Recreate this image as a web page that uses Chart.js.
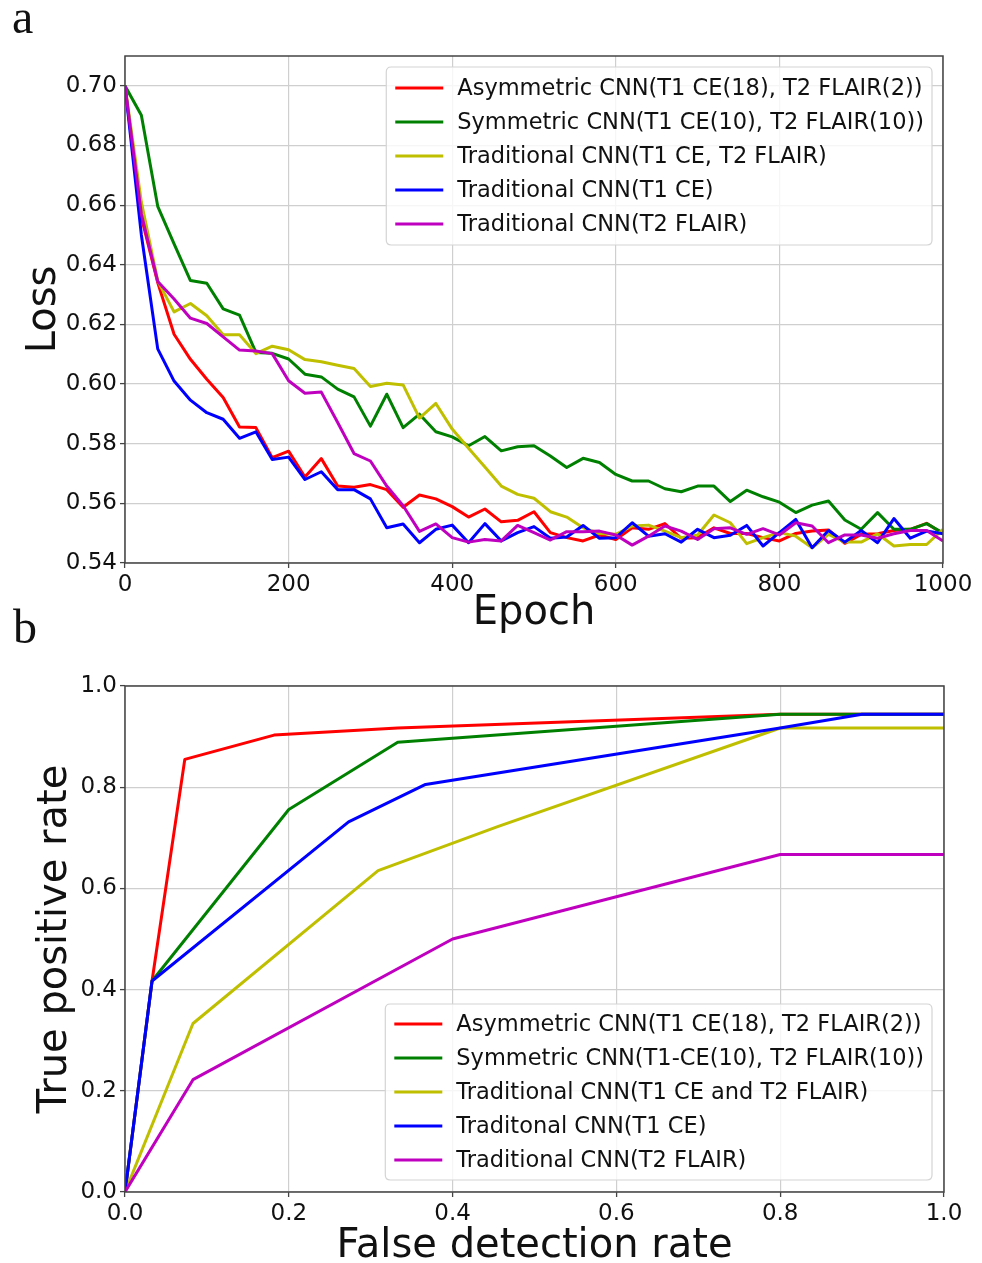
<!DOCTYPE html>
<html><head><meta charset="utf-8">
<script src="https://cdn.jsdelivr.net/npm/chart.js@4.4.0/dist/chart.umd.min.js"></script>
<style>
html,body{margin:0;padding:0;background:#fff;overflow:hidden;width:982px;height:1263px;}
#wrap{position:relative;width:982px;height:1263px;overflow:hidden;background:#fff;}
canvas{position:absolute;left:0;}
.panel{position:absolute;font-family:"Liberation Serif","Times New Roman",serif;font-size:48px;line-height:48px;color:#111;}
</style></head><body>
<div id="wrap">
<canvas id="c1" width="982" height="645" style="top:0px;width:982px;height:645px"></canvas>
<canvas id="c2" width="982" height="640" style="top:645px;width:982px;height:640px"></canvas>
<div class="panel" style="left:12px;top:-7px">a</div>
<div class="panel" style="left:13px;top:603px">b</div>
</div>
<script>
// ---------- Panel a : training loss ----------
const epochs = [0,20,40,60,80,100,120,140,160,180,200,220,240,260,280,300,320,340,360,380,400,420,440,460,480,500,520,540,560,580,600,620,640,660,680,700,720,740,760,780,800,820,840,860,880,900,920,940,960,980,1000];
const lossAsym = [0.700,0.656,0.634,0.6167,0.6083,0.6016,0.5955,0.5856,0.5854,0.5753,0.5775,0.5688,0.5750,0.5658,0.5654,0.5663,0.5646,0.5587,0.5628,0.5615,0.5589,0.5554,0.5581,0.5538,0.5543,0.5572,0.5502,0.5485,0.5474,0.5494,0.5479,0.5518,0.5513,0.5532,0.5483,0.5485,0.5518,0.5499,0.5499,0.5485,0.5474,0.5499,0.5507,0.5511,0.5466,0.5496,0.5498,0.5509,0.5513,0.5533,0.5498];
const lossSym = [0.700,0.6901,0.6596,0.647,0.6347,0.6338,0.6252,0.6231,0.6106,0.6103,0.6084,0.6033,0.6024,0.5983,0.5957,0.5859,0.5966,0.5854,0.5899,0.5840,0.5823,0.5793,0.5824,0.5776,0.5790,0.5793,0.5759,0.5720,0.5751,0.5737,0.5697,0.5675,0.5675,0.5649,0.5639,0.5658,0.5658,0.5606,0.5644,0.5622,0.5604,0.5569,0.5594,0.5608,0.5544,0.5513,0.5569,0.5513,0.5513,0.5532,0.5501];
const lossTradBoth = [0.700,0.661,0.6346,0.6242,0.6270,0.6229,0.6165,0.6165,0.6102,0.6127,0.6115,0.6082,0.6075,0.6063,0.6052,0.5992,0.6003,0.5997,0.5886,0.5935,0.5849,0.5785,0.5722,0.5658,0.5630,0.5617,0.5572,0.5554,0.5518,0.5499,0.5496,0.5524,0.5527,0.5507,0.5485,0.5494,0.5561,0.5535,0.5465,0.5485,0.5502,0.5490,0.5451,0.5496,0.5470,0.5470,0.5498,0.5457,0.5462,0.5462,0.5513];
const lossTradT1 = [0.700,0.650,0.6118,0.6010,0.5946,0.5904,0.5882,0.5818,0.5840,0.5747,0.5755,0.5680,0.5706,0.5646,0.5646,0.5615,0.5518,0.5531,0.5468,0.5513,0.5527,0.5468,0.5532,0.5474,0.5502,0.5522,0.5483,0.5487,0.5526,0.5483,0.5485,0.5535,0.5490,0.5498,0.5470,0.5513,0.5485,0.5493,0.5526,0.5457,0.5502,0.5546,0.5451,0.5509,0.5470,0.5509,0.5468,0.5549,0.5483,0.5507,0.5498];
const lossTradT2 = [0.700,0.657,0.6344,0.6285,0.6221,0.6203,0.6158,0.6114,0.6111,0.6102,0.6011,0.5969,0.5973,0.5871,0.5767,0.5742,0.5658,0.5592,0.5506,0.5531,0.5485,0.5470,0.5479,0.5474,0.5526,0.5502,0.5477,0.5505,0.5505,0.5507,0.5494,0.5460,0.5490,0.5524,0.5507,0.5479,0.5515,0.5518,0.5496,0.5515,0.5494,0.5535,0.5524,0.5468,0.5494,0.5494,0.5483,0.5498,0.5509,0.5509,0.5474];
const labelsA = ["Asymmetric CNN(T1 CE(18), T2 FLAIR(2))","Symmetric CNN(T1 CE(10), T2 FLAIR(10))","Traditional CNN(T1 CE, T2 FLAIR)","Traditional CNN(T1 CE)","Traditional CNN(T2 FLAIR)"];

// ---------- Panel b : ROC-like curves ----------
const fdrAsym = [0,0.033,0.073,0.182,0.333,0.8,1.0];
const tprAsym = [0,0.417,0.855,0.903,0.917,0.944,0.944];
const fdrSym = [0,0.033,0.2,0.333,0.8,1.0];
const tprSym = [0,0.417,0.756,0.889,0.944,0.944];
const fdrTradBoth = [0,0.083,0.309,0.455,0.8,1.0];
const tprTradBoth = [0,0.333,0.635,0.722,0.917,0.917];
const fdrTradT1 = [0,0.033,0.273,0.367,0.8,0.9,1.0];
const tprTradT1 = [0,0.417,0.7315,0.8055,0.917,0.944,0.944];
const fdrTradT2 = [0,0.083,0.4,0.8,1.0];
const tprTradT2 = [0,0.222,0.5,0.667,0.667];
const labelsB = ["Asymmetric CNN(T1 CE(18), T2 FLAIR(2))","Symmetric CNN(T1-CE(10), T2 FLAIR(10))","Traditional CNN(T1 CE and T2 FLAIR)","Traditonal CNN(T1 CE)","Traditional CNN(T2 FLAIR)"];

const colors = ['#ff0000','#008000','#bfbf00','#0000ff','#bf00bf'];

function pts(xs, ys){ return xs.map((x,i)=>({x:x, y:ys[i]})); }

const framePlugin = {
  id:'frame',
  afterDatasetsDraw(chart){
    const a = chart.chartArea, ctx = chart.ctx;
    ctx.save();
    ctx.strokeStyle = '#444'; ctx.lineWidth = 1.5;
    ctx.strokeRect(a.left, a.top, a.right - a.left, a.bottom - a.top);
    ctx.restore();
  }
};

const legendPlugin = {
  id:'boxLegend',
  afterDraw(chart, args, o){
    const ctx = chart.ctx, a = chart.chartArea, ds = chart.data.datasets;
    ctx.save();
    ctx.font = o.font;
    let maxW = 0;
    ds.forEach(d => { maxW = Math.max(maxW, ctx.measureText(d.label).width); });
    const w = o.padL + o.handle + o.gap + maxW + o.padR;
    const h = o.rowH * ds.length + o.padV * 2;
    const x = a.right - o.inset - w;
    const y = o.corner === 'top' ? a.top + o.inset : a.bottom - o.inset - h;
    const r = 5;
    ctx.beginPath();
    ctx.moveTo(x + r, y);
    ctx.lineTo(x + w - r, y); ctx.quadraticCurveTo(x + w, y, x + w, y + r);
    ctx.lineTo(x + w, y + h - r); ctx.quadraticCurveTo(x + w, y + h, x + w - r, y + h);
    ctx.lineTo(x + r, y + h); ctx.quadraticCurveTo(x, y + h, x, y + h - r);
    ctx.lineTo(x, y + r); ctx.quadraticCurveTo(x, y, x + r, y);
    ctx.closePath();
    ctx.fillStyle = 'rgba(255,255,255,0.8)'; ctx.fill();
    ctx.strokeStyle = '#d4d4d4'; ctx.lineWidth = 1.2; ctx.stroke();
    ds.forEach((d, i) => {
      const cy = y + o.padV + o.rowH * i + o.rowH / 2;
      ctx.beginPath();
      ctx.moveTo(x + o.padL, cy); ctx.lineTo(x + o.padL + o.handle, cy);
      ctx.strokeStyle = d.borderColor; ctx.lineWidth = 3; ctx.stroke();
      ctx.fillStyle = '#111'; ctx.textBaseline = 'middle'; ctx.textAlign = 'left';
      ctx.fillText(d.label, x + o.padL + o.handle + o.gap, cy + 1);
    });
    ctx.restore();
  }
};

const tickFont = {family:'"DejaVu Sans", sans-serif', size:23};
const titleFont = {family:'"DejaVu Sans", sans-serif', size:40};
const gridOpts = {color:'#cfcfcf', lineWidth:1.2, drawTicks:true, tickLength:5, tickColor:'#444', tickWidth:1.3};

function ds(label, data, i){
  return {label:label, data:data, borderColor:colors[i], backgroundColor:colors[i], borderWidth:3,
          pointRadius:0, pointHoverRadius:0, tension:0, fill:false, borderJoinStyle:'round', order:5 - i};
}

// Chart a
new Chart(document.getElementById('c1'), {
  type:'line',
  data:{datasets:[
    ds(labelsA[0], pts(epochs, lossAsym), 0),
    ds(labelsA[1], pts(epochs, lossSym), 1),
    ds(labelsA[2], pts(epochs, lossTradBoth), 2),
    ds(labelsA[3], pts(epochs, lossTradT1), 3),
    ds(labelsA[4], pts(epochs, lossTradT2), 4)
  ]},
  options:{
    responsive:false, animation:false, devicePixelRatio:1,
    layout:{padding:{top:56, right:39, left:0, bottom:0}},
    plugins:{legend:{display:false}, tooltip:{enabled:false},
      boxLegend:{font:'22.5px "DejaVu Sans", sans-serif', corner:'top', inset:11, padL:9, handle:48, gap:14, padR:8, rowH:34, padV:4}},
    scales:{
      x:{type:'linear', min:0, max:1000, border:{display:false}, grid:gridOpts,
         ticks:{stepSize:200, font:tickFont, color:'#111', padding:3, maxRotation:0, autoSkip:false, callback:v=>String(Math.round(v))},
         title:{display:true, text:'Epoch', font:titleFont, color:'#111', padding:{top:0, bottom:7}},
         afterFit(s){ s.height = 82; }},
      y:{type:'linear', min:0.54, max:0.71, border:{display:false}, grid:gridOpts,
         ticks:{stepSize:0.02, font:tickFont, color:'#111', padding:3, callback:v=>Number(v).toFixed(2)},
         afterBuildTicks(s){ s.ticks = s.ticks.filter(t => Math.abs(t.value/0.02 - Math.round(t.value/0.02)) < 1e-6); },
         title:{display:true, text:'Loss', font:titleFont, color:'#111', padding:{top:21, bottom:0}},
         afterFit(s){ s.width = 125; }}
    }
  },
  plugins:[framePlugin, legendPlugin]
});

// Chart b
new Chart(document.getElementById('c2'), {
  type:'line',
  data:{datasets:[
    ds(labelsB[0], pts(fdrAsym, tprAsym), 0),
    ds(labelsB[1], pts(fdrSym, tprSym), 1),
    ds(labelsB[2], pts(fdrTradBoth, tprTradBoth), 2),
    ds(labelsB[3], pts(fdrTradT1, tprTradT1), 3),
    ds(labelsB[4], pts(fdrTradT2, tprTradT2), 4)
  ]},
  options:{
    responsive:false, animation:false, devicePixelRatio:1,
    layout:{padding:{top:41, right:38, left:0, bottom:0}},
    plugins:{legend:{display:false}, tooltip:{enabled:false},
      boxLegend:{font:'22.5px "DejaVu Sans", sans-serif', corner:'bottom', inset:12, padL:9, handle:48, gap:14, padR:8, rowH:34, padV:3}},
    scales:{
      x:{type:'linear', min:0, max:1, border:{display:false}, grid:gridOpts,
         ticks:{stepSize:0.2, font:tickFont, color:'#111', padding:3, maxRotation:0, autoSkip:false, callback:v=>Number(v).toFixed(1)},
         title:{display:true, text:'False detection rate', font:titleFont, color:'#111', padding:{top:0, bottom:14}},
         afterFit(s){ s.height = 93; }},
      y:{type:'linear', min:0, max:1, border:{display:false}, grid:gridOpts,
         ticks:{stepSize:0.2, font:tickFont, color:'#111', padding:3, callback:v=>Number(v).toFixed(1)},
         title:{display:true, text:'True positive rate', font:titleFont, color:'#111', padding:{top:32, bottom:0}},
         afterFit(s){ s.width = 125; }}
    }
  },
  plugins:[framePlugin, legendPlugin]
});
</script>
</body></html>
